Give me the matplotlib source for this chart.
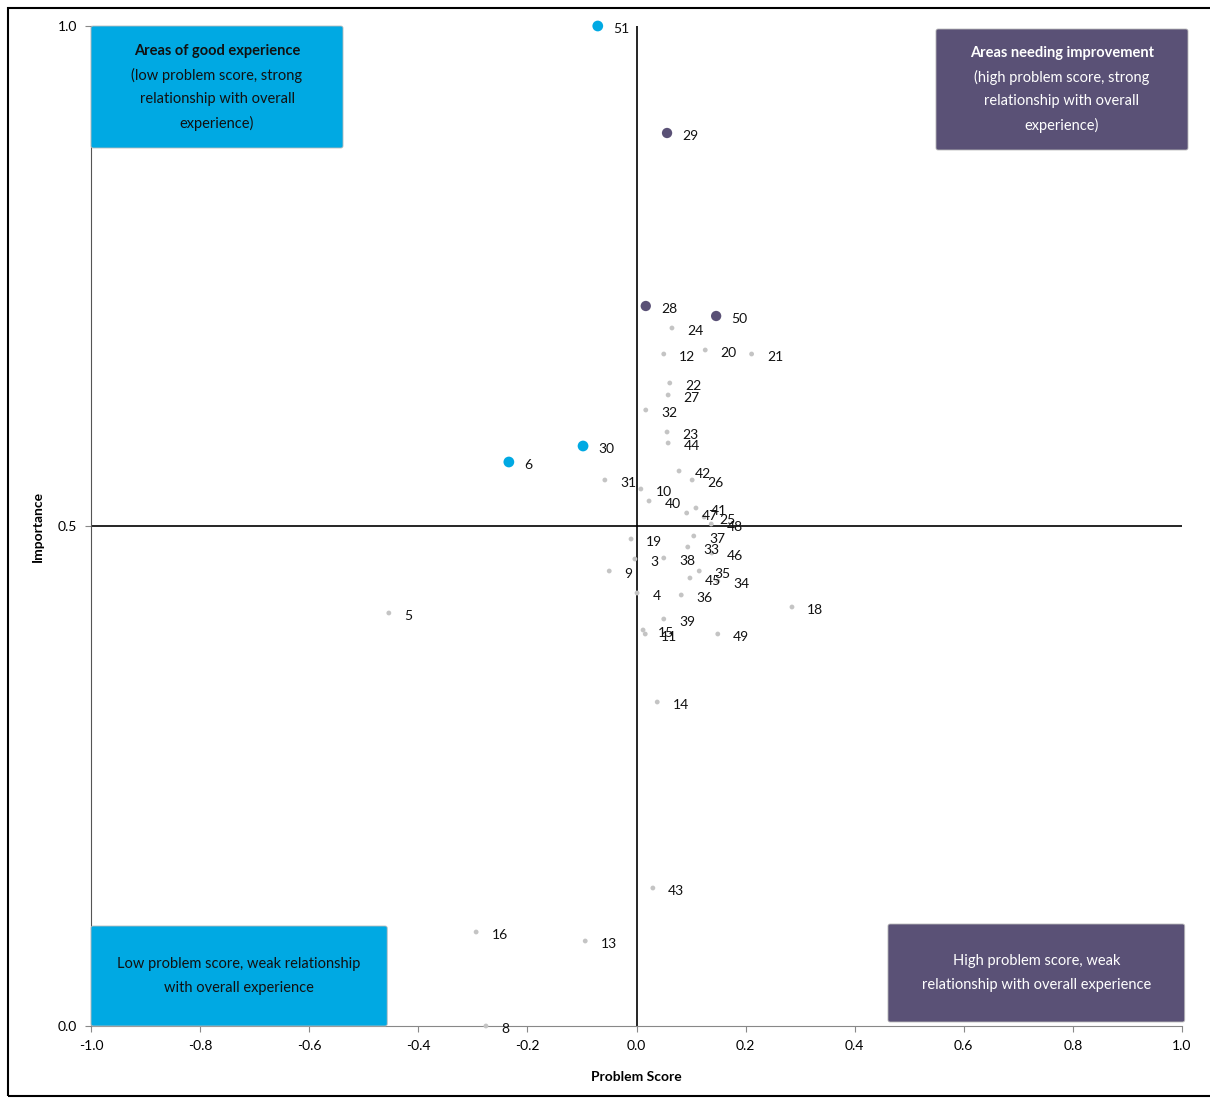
import matplotlib
matplotlib.use("Agg")
import matplotlib.pyplot as plt
from matplotlib.patches import FancyBboxPatch, Rectangle

plt.rcParams['font.family'] = ['Lato', 'DejaVu Sans']

# ---- data ----
labels = ["51", "29", "28", "50", "24", "12", "20", "21", "22", "27", "32",
          "23", "44", "30", "6", "42", "26", "31", "10", "40", "41", "47",
          "25", "48", "37", "19", "33", "46", "3", "38", "9", "35", "45",
          "34", "4", "36", "39", "15", "11", "49", "18", "5", "14", "43",
          "16", "13", "8"]
problem_score = [-0.071, 0.056, 0.017, 0.146, 0.065, 0.050, 0.126, 0.211, 0.061, 0.058, 0.017,
                 0.056, 0.058, -0.098, -0.234, 0.078, 0.102, -0.058, 0.008, 0.023, 0.109, 0.092,
                 0.124, 0.137, 0.105, -0.010, 0.094, 0.138, -0.003, 0.050, -0.050, 0.115, 0.098,
                 0.149, 0.001, 0.082, 0.050, 0.012, 0.016, 0.149, 0.285, -0.454, 0.038, 0.030,
                 -0.294, -0.094, -0.276]
importance = [1.000, 0.893, 0.720, 0.710, 0.698, 0.672, 0.676, 0.672, 0.643, 0.631, 0.616,
              0.594, 0.583, 0.580, 0.564, 0.555, 0.546, 0.546, 0.537, 0.525, 0.518, 0.513,
              0.509, 0.502, 0.490, 0.487, 0.479, 0.473, 0.467, 0.468, 0.455, 0.455, 0.448,
              0.445, 0.433, 0.431, 0.407, 0.396, 0.392, 0.392, 0.419, 0.413, 0.324, 0.138,
              0.094, 0.085, 0.000]
group = ["good", "improve", "improve", "improve"] + ["other"] * 9 + ["good", "good"] + ["other"] * 32

x_ticks = [-1.0, -0.8, -0.6, -0.4, -0.2, 0.0, 0.2, 0.4, 0.6, 0.8, 1.0]
y_ticks = [0.0, 0.5, 1.0]

BLUE = "#00A9E3"
PURPLE = "#5A5176"
GREY = "#C4C4C4"
colors = {"good": BLUE, "improve": PURPLE, "other": GREY}
sizes = {"good": 60, "improve": 55, "other": 12}

fig = plt.figure(figsize=(12.10, 10.98), dpi=100)
ax = fig.add_axes([91/1210, 1 - 1026/1098, (1182-91)/1210, (1026-26)/1098])

ax.set_xlim(-1, 1)
ax.set_ylim(0, 1)

# crossing lines
ax.axvline(0, color="black", lw=1.2, zorder=2)
ax.axhline(0.5, color="black", lw=1.2, zorder=2)

for g in ["other", "improve", "good"]:
    xs = [x for x, gg in zip(problem_score, group) if gg == g]
    ys = [y for y, gg in zip(importance, group) if gg == g]
    ax.scatter(xs, ys, s=sizes[g], color=colors[g], edgecolors="none", zorder=4, clip_on=False)

for lab, x, y in zip(labels, problem_score, importance):
    ax.annotate(lab, (x, y), xytext=(11, -2), textcoords="offset points",
                fontsize=10, va="center", ha="left", color="#111111", zorder=5)

# quadrant boxes
def box(x0, y0, w, h, color, lines, txtcolor, bold_first):
    r = FancyBboxPatch((x0, y0), w, h, boxstyle="round,pad=0,rounding_size=0.004",
                       facecolor=color, edgecolor="#BBBBBB", lw=0.6, zorder=3, clip_on=False,
                       transform=ax.transData, mutation_aspect=0.5)
    ax.add_patch(r)
    n = len(lines)
    cx = x0 + w / 2
    cy = y0 + h / 2
    step = 0.024
    for i, ln in enumerate(lines):
        yy = cy + (n - 1) / 2 * step - i * step
        ax.text(cx, yy, ln, ha="center", va="center", fontsize=10.5, color=txtcolor,
                fontweight="bold" if (bold_first and i == 0) else "normal", zorder=6)

box(-1.0, 0.878, 0.462, 0.122, BLUE,
    ["Areas of good experience", "(low problem score, strong", "relationship with overall", "experience)"],
    "#111111", True)
box(0.549, 0.876, 0.462, 0.121, PURPLE,
    ["Areas needing improvement", "(high problem score, strong", "relationship with overall", "experience)"],
    "white", True)
box(-1.0, 0.0, 0.543, 0.100, BLUE,
    ["Low problem score, weak relationship", "with overall experience"],
    "#111111", False)
box(0.461, 0.004, 0.544, 0.098, PURPLE,
    ["High problem score, weak", "relationship with overall experience"],
    "white", False)

ax.set_xticks(x_ticks)
ax.set_xticklabels([f"{t:.1f}" for t in x_ticks])
ax.set_yticks(y_ticks)
ax.set_yticklabels([f"{t:.1f}" for t in y_ticks])
ax.tick_params(axis="both", labelsize=10, length=4, color="#888888", pad=6)

for s in ["top", "right"]:
    ax.spines[s].set_visible(False)
ax.spines["left"].set_color("#555555")
ax.spines["bottom"].set_color("#888888")

ax.set_xlabel("Problem Score", fontsize=10, fontweight="bold", labelpad=14)
ax.set_ylabel("Importance", fontsize=10, fontweight="bold", labelpad=10)

# outer frame
fig.add_artist(Rectangle((8/1210, 2/1098), 1 - 8/1210 + 0.01, 1 - 10/1098,
                         transform=fig.transFigure, fill=False, edgecolor="black", lw=1.5))

fig.savefig("out.png", dpi=100)
